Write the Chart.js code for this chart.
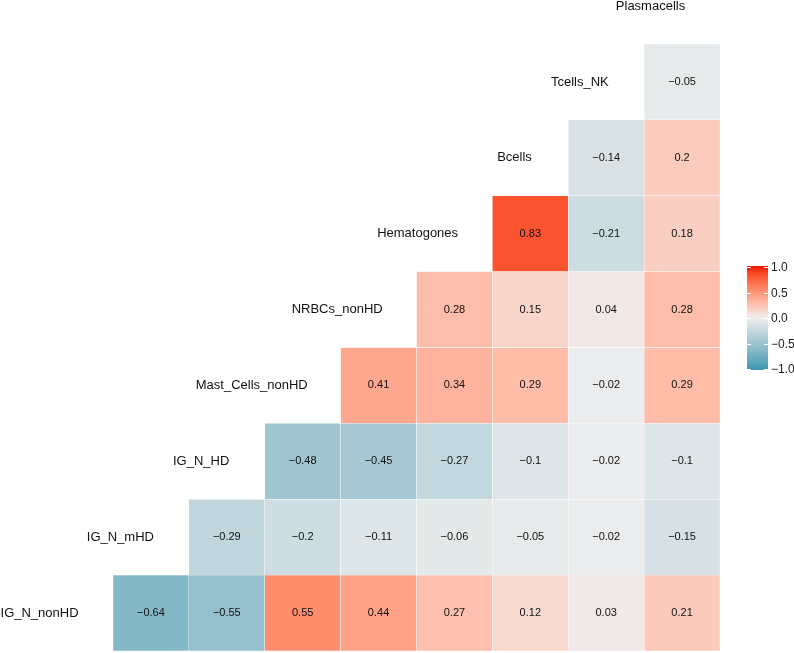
<!DOCTYPE html>
<html>
<head>
<meta charset="utf-8">
<script src="https://cdn.jsdelivr.net/npm/chart.js@4/dist/chart.umd.min.js"></script>
<style>
  html, body { margin: 0; padding: 0; background: #ffffff; }
  #wrap { width: 794px; height: 653px; }
</style>
</head>
<body>
<div id="wrap"><canvas id="corr" width="794" height="653"></canvas></div>
<script>
// variables, in the order of the diagonal (bottom-left to top-right)
const varNames = ["IG_N_nonHD", "IG_N_mHD", "IG_N_HD", "Mast_Cells_nonHD", "NRBCs_nonHD",
                  "Hematogones", "Bcells", "Tcells_NK", "Plasmacells"];

// correlations of each row variable with the variables to its right
const corrIG_N_nonHD = [-0.64, -0.55, 0.55, 0.44, 0.27, 0.12, 0.03, 0.21];
const corrIG_N_mHD   = [-0.29, -0.2, -0.11, -0.06, -0.05, -0.02, -0.15];
const corrIG_N_HD    = [-0.48, -0.45, -0.27, -0.1, -0.02, -0.1];
const corrMastCells  = [0.41, 0.34, 0.29, -0.02, 0.29];
const corrNRBCs      = [0.28, 0.15, 0.04, 0.28];
const corrHematog    = [0.83, -0.21, 0.18];
const corrBcells     = [-0.14, 0.2];
const corrTcells     = [-0.05];

const legendTicks = [1.0, 0.5, 0.0, -0.5, -1.0];

const rowValues = [corrIG_N_nonHD, corrIG_N_mHD, corrIG_N_HD, corrMastCells,
                   corrNRBCs, corrHematog, corrBcells, corrTcells];

const FONT = "'Liberation Sans', Arial, sans-serif";

// --- colour scale (ggplot style, interpolated in Lab) ---
function hexRgb(h) {
    return [parseInt(h.substr(1, 2), 16), parseInt(h.substr(3, 2), 16), parseInt(h.substr(5, 2), 16)];
}
function toLin(c) { c /= 255; return c <= 0.04045 ? c / 12.92 : Math.pow((c + 0.055) / 1.055, 2.4); }
function fromLin(c) {
    c = c <= 0.0031308 ? 12.92 * c : 1.055 * Math.pow(c, 1 / 2.4) - 0.055;
    return Math.round(Math.max(0, Math.min(1, c)) * 255);
}
function rgbLab(rgb) {
    const r = toLin(rgb[0]), g = toLin(rgb[1]), b = toLin(rgb[2]);
    const x = (0.4124 * r + 0.3576 * g + 0.1805 * b) / 0.95047;
    const y = (0.2126 * r + 0.7152 * g + 0.0722 * b);
    const z = (0.0193 * r + 0.1192 * g + 0.9505 * b) / 1.08883;
    const f = t => t > 0.008856 ? Math.cbrt(t) : 7.787 * t + 16 / 116;
    return [116 * f(y) - 16, 500 * (f(x) - f(y)), 200 * (f(y) - f(z))];
}
function labRgb(lab) {
    const fy = (lab[0] + 16) / 116, fx = fy + lab[1] / 500, fz = fy - lab[2] / 200;
    const inv = t => t > 0.206893 ? t * t * t : (t - 16 / 116) / 7.787;
    const x = inv(fx) * 0.95047, y = inv(fy), z = inv(fz) * 1.08883;
    const r = 3.2406 * x - 1.5372 * y - 0.4986 * z;
    const g = -0.9689 * x + 1.8758 * y + 0.0415 * z;
    const b = 0.0557 * x - 0.2040 * y + 1.0570 * z;
    return [fromLin(r), fromLin(g), fromLin(b)];
}
const labLow = rgbLab(hexRgb("#3B9AB2"));
const labMid = rgbLab(hexRgb("#EEEEEE"));
const labHigh = rgbLab(hexRgb("#F21A00"));
function colorFor(v) {
    const end = v < 0 ? labLow : labHigh;
    const t = Math.min(1, Math.abs(v));
    const lab = [0, 1, 2].map(i => labMid[i] + (end[i] - labMid[i]) * t);
    const c = labRgb(lab);
    return "rgb(" + c[0] + "," + c[1] + "," + c[2] + ")";
}
function fmt(v) { return String(v).replace("-", "\u2212"); }

// --- datasets: one per row, floating bars of height 1 ---
const columnLabels = varNames.slice(1);
const datasets = rowValues.map(function (vals, row) {
    const data = [], colors = [];
    for (let c = 0; c < columnLabels.length; c++) {
        const k = c - row; // index into this row's values
        if (k >= 0 && k < vals.length) {
            data.push([row - 0.5, row + 0.5]);
            colors.push(colorFor(vals[k]));
        } else {
            data.push(null);
            colors.push("rgba(0,0,0,0)");
        }
    }
    return {
        label: varNames[row],
        data: data,
        backgroundColor: colors,
        borderColor: "rgba(255,255,255,0.7)",
        borderWidth: 0.5,
        borderSkipped: false
    };
});

// cell values + diagonal labels + colour bar
const corrPlugin = {
    id: "corrPlugin",
    afterDatasetsDraw(chart) {
        const ctx = chart.ctx;
        const xs = chart.scales.x, ys = chart.scales.y;
        const colW = xs.getPixelForValue(1) - xs.getPixelForValue(0);
        ctx.save();
        ctx.textAlign = "center";
        ctx.textBaseline = "middle";
        ctx.fillStyle = "#111111";
        ctx.font = "11px " + FONT;
        rowValues.forEach(function (vals, row) {
            vals.forEach(function (v, k) {
                const col = row + k;
                ctx.fillText(fmt(v), xs.getPixelForValue(col), ys.getPixelForValue(row));
            });
        });
        // diagonal variable names (hjust a bit under 1)
        ctx.textAlign = "left";
        ctx.font = "13px " + FONT;
        varNames.forEach(function (name, k) {
            const cx = xs.getPixelForValue(0) + (k - 1) * colW;
            const w = ctx.measureText(name).width;
            ctx.fillText(name, cx - 0.955 * w, ys.getPixelForValue(k));
        });
        // colour bar
        const bx = 747, bw = 21, top = 267, bottom = 369;
        const yOf = v => top + (1 - v) / 2 * (bottom - top);
        for (let y = top - 1; y < bottom + 1; y++) {
            const v = 1 - (y + 0.5 - top) / (bottom - top) * 2;
            ctx.fillStyle = colorFor(Math.max(-1, Math.min(1, v)));
            ctx.fillRect(bx, y, bw, 1);
        }
        ctx.strokeStyle = "#ffffff";
        ctx.lineWidth = 1;
        ctx.font = "12px " + FONT;
        legendTicks.forEach(function (t) {
            const y = Math.round(yOf(t)) + 0.5;
            ctx.beginPath();
            ctx.moveTo(bx, y); ctx.lineTo(bx + 4, y);
            ctx.moveTo(bx + bw - 4, y); ctx.lineTo(bx + bw, y);
            ctx.stroke();
            ctx.fillStyle = "#1a1a1a";
            ctx.fillText(fmt(t.toFixed(1)), 771, yOf(t) + 1);
        });
        ctx.restore();
    }
};

new Chart(document.getElementById("corr"), {
    type: "bar",
    data: { labels: columnLabels, datasets: datasets },
    options: {
        responsive: false,
        animation: false,
        layout: { padding: { left: 113, right: 74, top: 44, bottom: 2 } },
        datasets: { bar: { grouped: false, barPercentage: 1, categoryPercentage: 1 } },
        scales: {
            x: { display: false, offset: true },
            y: { display: false, min: -0.5, max: 7.5 }
        },
        plugins: { legend: { display: false }, tooltip: { enabled: false } }
    },
    plugins: [corrPlugin]
});
</script>
</body>
</html>
